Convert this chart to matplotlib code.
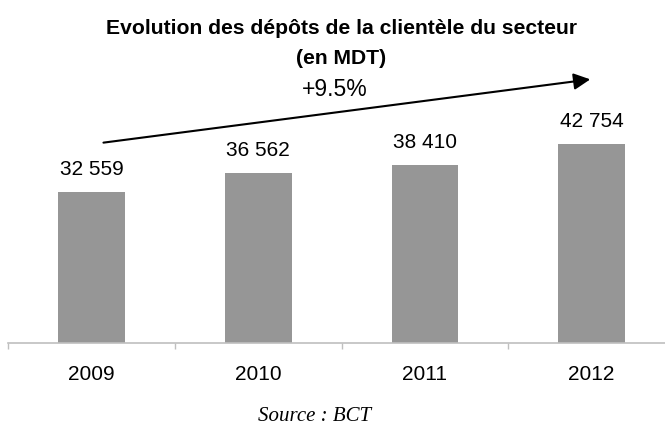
import matplotlib
matplotlib.use("Agg")
import matplotlib.pyplot as plt

# data
years = ["2009", "2010", "2011", "2012"]
deposits = [32559, 36562, 38410, 42754]
value_labels = ["32 559", "36 562", "38 410", "42 754"]
growth_label = "+9.5%"

W, H = 665, 427

plt.rcParams["font.family"] = ["Liberation Sans", "DejaVu Sans"]

fig = plt.figure(figsize=(W / 100, H / 100), dpi=100)
# axes spans the category band; the last one runs off the right edge like the original
ax = fig.add_axes([8.3 / W, (H - 344.3) / H, 666.7 / W, 279 / H])

x = range(len(years))
ax.bar(x, deposits, width=0.4, color="#969696", zorder=2)
ax.set_xlim(-0.5, 3.5)
ax.set_ylim(0, 60000)

for i, (v, lab) in enumerate(zip(deposits, value_labels)):
    ax.annotate(lab, (i, v), xytext=(0, 17), textcoords="offset points",
                ha="center", va="center", fontsize=15)

# category separators as ticks, year names as minor tick labels
ax.set_xticks([-0.5, 0.5, 1.5, 2.5, 3.5])
ax.set_xticklabels([])
ax.tick_params(axis="x", which="major", direction="out", length=4.3,
               width=1, color="#bfbfbf")
ax.set_xticks(list(x), minor=True)
ax.set_xticklabels(years, minor=True, fontsize=15)
ax.tick_params(axis="x", which="minor", length=0, pad=15)
ax.set_yticks([])

for side in ["top", "right", "left"]:
    ax.spines[side].set_visible(False)
ax.spines["bottom"].set_color("#bfbfbf")
ax.spines["bottom"].set_linewidth(1.2)

fig.text(341 / W, 1 - 28 / H, "Evolution des dépôts de la clientèle du secteur",
         ha="center", va="center", fontsize=15.2, fontweight="bold")
fig.text(341 / W, 1 - 58 / H, "(en MDT)", ha="center", va="center",
         fontsize=15.2, fontweight="bold")
fig.text(335 / W, 1 - 90 / H, growth_label, ha="center", va="center", fontsize=16.5)

# trend arrow
fig.patches.append(matplotlib.patches.FancyArrowPatch(
    (100.7 / W, 1 - 144 / H), (593 / W, 1 - 80 / H),
    transform=fig.transFigure, arrowstyle="-|>", mutation_scale=25,
    linewidth=1.5, color="black"))

fig.text(315 / W, 1 / H, "Source : BCT", ha="center", va="bottom",
         fontsize=15, fontstyle="italic", family=["Liberation Serif", "DejaVu Serif"])

fig.savefig("out.png", dpi=100)
